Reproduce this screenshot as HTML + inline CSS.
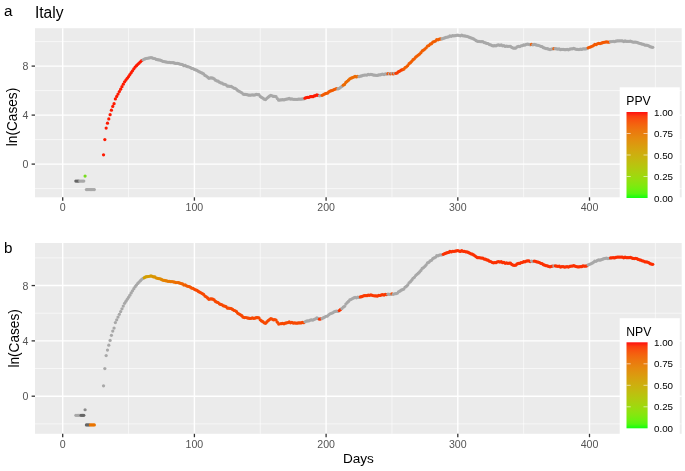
<!DOCTYPE html>
<html lang="en"><head><meta charset="utf-8"><title>Italy</title>
<style>
html,body{margin:0;padding:0;background:#fff;}
body{width:685px;height:471px;overflow:hidden;}
svg text{font-family:"Liberation Sans",Arial,Helvetica,sans-serif;}
</style></head><body>
<svg width="685" height="471" viewBox="0 0 685 471" style="display:block">
<defs><linearGradient id="cb" x1="0" y1="1" x2="0" y2="0">
<stop offset="0.00" stop-color="#0fff0f"/>
<stop offset="0.05" stop-color="#54f70f"/>
<stop offset="0.10" stop-color="#6ef00f"/>
<stop offset="0.15" stop-color="#82e80f"/>
<stop offset="0.20" stop-color="#91e10f"/>
<stop offset="0.25" stop-color="#9ed90f"/>
<stop offset="0.30" stop-color="#a9d10f"/>
<stop offset="0.35" stop-color="#b3c90f"/>
<stop offset="0.40" stop-color="#bcc10f"/>
<stop offset="0.45" stop-color="#c5b80f"/>
<stop offset="0.50" stop-color="#ccb00f"/>
<stop offset="0.55" stop-color="#d3a70f"/>
<stop offset="0.60" stop-color="#d99e0f"/>
<stop offset="0.65" stop-color="#df940f"/>
<stop offset="0.70" stop-color="#e58a0f"/>
<stop offset="0.75" stop-color="#e97e0f"/>
<stop offset="0.80" stop-color="#ee730f"/>
<stop offset="0.85" stop-color="#f3650f"/>
<stop offset="0.90" stop-color="#f7550f"/>
<stop offset="0.95" stop-color="#fb3f0f"/>
<stop offset="1.00" stop-color="#ff0f0f"/>
</linearGradient></defs>
<rect width="685" height="471" fill="#ffffff"/>
<rect x="35.0" y="28.2" width="646.7" height="169.1" fill="#ebebeb"/>
<line x1="35.0" x2="681.7" y1="188.60" y2="188.60" stroke="#fff" stroke-width="0.6"/>
<line x1="35.0" x2="681.7" y1="139.60" y2="139.60" stroke="#fff" stroke-width="0.6"/>
<line x1="35.0" x2="681.7" y1="90.60" y2="90.60" stroke="#fff" stroke-width="0.6"/>
<line x1="35.0" x2="681.7" y1="41.60" y2="41.60" stroke="#fff" stroke-width="0.6"/>
<line y1="28.2" y2="197.3" x1="128.55" x2="128.55" stroke="#fff" stroke-width="0.6"/>
<line y1="28.2" y2="197.3" x1="260.25" x2="260.25" stroke="#fff" stroke-width="0.6"/>
<line y1="28.2" y2="197.3" x1="391.95" x2="391.95" stroke="#fff" stroke-width="0.6"/>
<line y1="28.2" y2="197.3" x1="523.65" x2="523.65" stroke="#fff" stroke-width="0.6"/>
<line y1="28.2" y2="197.3" x1="655.35" x2="655.35" stroke="#fff" stroke-width="0.6"/>
<line x1="35.0" x2="681.7" y1="164.10" y2="164.10" stroke="#fff" stroke-width="1.4"/>
<line x1="31.6" x2="35.0" y1="164.10" y2="164.10" stroke="#333" stroke-width="1.3"/>
<text x="28.5" y="168.30" text-anchor="end" font-size="10.6" fill="#555555">0</text>
<line x1="35.0" x2="681.7" y1="115.10" y2="115.10" stroke="#fff" stroke-width="1.4"/>
<line x1="31.6" x2="35.0" y1="115.10" y2="115.10" stroke="#333" stroke-width="1.3"/>
<text x="28.5" y="119.30" text-anchor="end" font-size="10.6" fill="#555555">4</text>
<line x1="35.0" x2="681.7" y1="66.10" y2="66.10" stroke="#fff" stroke-width="1.4"/>
<line x1="31.6" x2="35.0" y1="66.10" y2="66.10" stroke="#333" stroke-width="1.3"/>
<text x="28.5" y="70.30" text-anchor="end" font-size="10.6" fill="#555555">8</text>
<line y1="28.2" y2="197.3" x1="62.70" x2="62.70" stroke="#fff" stroke-width="1.4"/>
<line y1="197.3" y2="200.7" x1="62.70" x2="62.70" stroke="#333" stroke-width="1.3"/>
<text x="62.70" y="211.20" text-anchor="middle" font-size="10.6" fill="#555555">0</text>
<line y1="28.2" y2="197.3" x1="194.40" x2="194.40" stroke="#fff" stroke-width="1.4"/>
<line y1="197.3" y2="200.7" x1="194.40" x2="194.40" stroke="#333" stroke-width="1.3"/>
<text x="194.40" y="211.20" text-anchor="middle" font-size="10.6" fill="#555555">100</text>
<line y1="28.2" y2="197.3" x1="326.10" x2="326.10" stroke="#fff" stroke-width="1.4"/>
<line y1="197.3" y2="200.7" x1="326.10" x2="326.10" stroke="#333" stroke-width="1.3"/>
<text x="326.10" y="211.20" text-anchor="middle" font-size="10.6" fill="#555555">200</text>
<line y1="28.2" y2="197.3" x1="457.80" x2="457.80" stroke="#fff" stroke-width="1.4"/>
<line y1="197.3" y2="200.7" x1="457.80" x2="457.80" stroke="#333" stroke-width="1.3"/>
<text x="457.80" y="211.20" text-anchor="middle" font-size="10.6" fill="#555555">300</text>
<line y1="28.2" y2="197.3" x1="589.50" x2="589.50" stroke="#fff" stroke-width="1.4"/>
<line y1="197.3" y2="200.7" x1="589.50" x2="589.50" stroke="#333" stroke-width="1.3"/>
<text x="589.50" y="211.20" text-anchor="middle" font-size="10.6" fill="#555555">400</text>
<circle cx="75.87" cy="181.08" r="1.62" fill="#666666"/>
<circle cx="77.19" cy="181.08" r="1.62" fill="#666666"/>
<circle cx="78.50" cy="181.08" r="1.62" fill="#666666"/>
<circle cx="79.82" cy="181.08" r="1.62" fill="#a8a8a8"/>
<circle cx="81.14" cy="181.08" r="1.62" fill="#a8a8a8"/>
<circle cx="82.45" cy="181.08" r="1.62" fill="#a8a8a8"/>
<circle cx="83.77" cy="181.08" r="1.62" fill="#a8a8a8"/>
<circle cx="85.09" cy="176.10" r="1.62" fill="#78dc1e"/>
<circle cx="86.41" cy="189.57" r="1.62" fill="#a8a8a8"/>
<circle cx="87.72" cy="189.57" r="1.62" fill="#a8a8a8"/>
<circle cx="89.04" cy="189.57" r="1.62" fill="#a8a8a8"/>
<circle cx="90.36" cy="189.57" r="1.62" fill="#a8a8a8"/>
<circle cx="91.67" cy="189.57" r="1.62" fill="#a8a8a8"/>
<circle cx="92.99" cy="189.57" r="1.62" fill="#a8a8a8"/>
<circle cx="94.31" cy="189.57" r="1.62" fill="#a8a8a8"/>
<circle cx="103.53" cy="154.86" r="1.62" fill="#fe1900"/>
<circle cx="104.84" cy="139.62" r="1.62" fill="#fe1900"/>
<circle cx="106.16" cy="128.08" r="1.62" fill="#fe1900"/>
<circle cx="107.48" cy="123.19" r="1.62" fill="#fe1900"/>
<circle cx="108.80" cy="118.90" r="1.62" fill="#fe1900"/>
<circle cx="110.11" cy="114.73" r="1.62" fill="#fe1900"/>
<circle cx="111.43" cy="110.20" r="1.62" fill="#fe1900"/>
<circle cx="112.75" cy="106.40" r="1.62" fill="#fe1900"/>
<circle cx="114.06" cy="103.71" r="1.62" fill="#fe1900"/>
<circle cx="115.38" cy="98.93" r="1.62" fill="#fe1900"/>
<circle cx="116.70" cy="96.48" r="1.62" fill="#fe1900"/>
<circle cx="118.01" cy="94.03" r="1.62" fill="#fe1900"/>
<circle cx="119.33" cy="91.58" r="1.62" fill="#fe1900"/>
<circle cx="120.65" cy="89.13" r="1.62" fill="#fe1900"/>
<circle cx="121.97" cy="86.68" r="1.62" fill="#fe1900"/>
<circle cx="123.28" cy="84.23" r="1.62" fill="#fe1900"/>
<circle cx="124.60" cy="81.78" r="1.62" fill="#fe1900"/>
<circle cx="125.92" cy="80.02" r="1.62" fill="#fe1900"/>
<circle cx="127.23" cy="78.27" r="1.62" fill="#fe1900"/>
<circle cx="128.55" cy="76.51" r="1.62" fill="#fe1900"/>
<circle cx="129.87" cy="74.60" r="1.62" fill="#fe1900"/>
<circle cx="131.18" cy="72.68" r="1.62" fill="#fe1900"/>
<circle cx="132.50" cy="70.76" r="1.62" fill="#fe1900"/>
<circle cx="133.82" cy="68.84" r="1.62" fill="#fe1900"/>
<circle cx="135.13" cy="67.12" r="1.62" fill="#fe1900"/>
<circle cx="136.45" cy="65.69" r="1.62" fill="#fe1900"/>
<circle cx="137.77" cy="64.26" r="1.62" fill="#fe1900"/>
<circle cx="139.09" cy="63.04" r="1.62" fill="#fe1900"/>
<circle cx="140.40" cy="61.81" r="1.62" fill="#fe1900"/>
<circle cx="141.72" cy="60.59" r="1.62" fill="#fe1900"/>
<circle cx="143.04" cy="59.82" r="1.62" fill="#a8a8a8"/>
<circle cx="144.35" cy="59.16" r="1.62" fill="#a8a8a8"/>
<circle cx="145.67" cy="58.51" r="1.62" fill="#a8a8a8"/>
<circle cx="146.99" cy="58.29" r="1.62" fill="#a8a8a8"/>
<circle cx="148.31" cy="58.07" r="1.62" fill="#a8a8a8"/>
<circle cx="149.62" cy="57.86" r="1.62" fill="#a8a8a8"/>
<circle cx="150.94" cy="57.61" r="1.62" fill="#a8a8a8"/>
<circle cx="152.26" cy="57.95" r="1.62" fill="#a8a8a8"/>
<circle cx="153.57" cy="58.50" r="1.62" fill="#a8a8a8"/>
<circle cx="154.89" cy="58.50" r="1.62" fill="#a8a8a8"/>
<circle cx="156.21" cy="59.41" r="1.62" fill="#a8a8a8"/>
<circle cx="157.52" cy="59.66" r="1.62" fill="#a8a8a8"/>
<circle cx="158.84" cy="59.93" r="1.62" fill="#a8a8a8"/>
<circle cx="160.16" cy="60.11" r="1.62" fill="#a8a8a8"/>
<circle cx="161.47" cy="60.69" r="1.62" fill="#a8a8a8"/>
<circle cx="162.79" cy="61.33" r="1.62" fill="#a8a8a8"/>
<circle cx="164.11" cy="61.56" r="1.62" fill="#a8a8a8"/>
<circle cx="165.43" cy="61.79" r="1.62" fill="#a8a8a8"/>
<circle cx="166.74" cy="62.02" r="1.62" fill="#a8a8a8"/>
<circle cx="168.06" cy="62.34" r="1.62" fill="#a8a8a8"/>
<circle cx="169.38" cy="62.37" r="1.62" fill="#a8a8a8"/>
<circle cx="170.69" cy="62.56" r="1.62" fill="#a8a8a8"/>
<circle cx="172.01" cy="62.53" r="1.62" fill="#a8a8a8"/>
<circle cx="173.33" cy="62.73" r="1.62" fill="#a8a8a8"/>
<circle cx="174.64" cy="63.15" r="1.62" fill="#a8a8a8"/>
<circle cx="175.96" cy="63.41" r="1.62" fill="#a8a8a8"/>
<circle cx="177.28" cy="63.39" r="1.62" fill="#a8a8a8"/>
<circle cx="178.60" cy="63.52" r="1.62" fill="#a8a8a8"/>
<circle cx="179.91" cy="64.01" r="1.62" fill="#a8a8a8"/>
<circle cx="181.23" cy="64.31" r="1.62" fill="#a8a8a8"/>
<circle cx="182.55" cy="64.61" r="1.62" fill="#a8a8a8"/>
<circle cx="183.86" cy="65.67" r="1.62" fill="#a8a8a8"/>
<circle cx="185.18" cy="65.46" r="1.62" fill="#a8a8a8"/>
<circle cx="186.50" cy="66.37" r="1.62" fill="#a8a8a8"/>
<circle cx="187.81" cy="66.73" r="1.62" fill="#a8a8a8"/>
<circle cx="189.13" cy="67.00" r="1.62" fill="#a8a8a8"/>
<circle cx="190.45" cy="67.56" r="1.62" fill="#a8a8a8"/>
<circle cx="191.77" cy="68.46" r="1.62" fill="#a8a8a8"/>
<circle cx="193.08" cy="68.56" r="1.62" fill="#a8a8a8"/>
<circle cx="194.40" cy="69.48" r="1.62" fill="#a8a8a8"/>
<circle cx="195.72" cy="69.98" r="1.62" fill="#a8a8a8"/>
<circle cx="197.03" cy="70.36" r="1.62" fill="#a8a8a8"/>
<circle cx="198.35" cy="71.35" r="1.62" fill="#a8a8a8"/>
<circle cx="199.67" cy="71.94" r="1.62" fill="#a8a8a8"/>
<circle cx="200.99" cy="72.55" r="1.62" fill="#a8a8a8"/>
<circle cx="202.30" cy="73.20" r="1.62" fill="#a8a8a8"/>
<circle cx="203.62" cy="73.95" r="1.62" fill="#a8a8a8"/>
<circle cx="204.94" cy="75.38" r="1.62" fill="#a8a8a8"/>
<circle cx="206.25" cy="76.07" r="1.62" fill="#a8a8a8"/>
<circle cx="207.57" cy="77.02" r="1.62" fill="#a8a8a8"/>
<circle cx="208.89" cy="78.31" r="1.62" fill="#a8a8a8"/>
<circle cx="210.20" cy="77.95" r="1.62" fill="#a8a8a8"/>
<circle cx="211.52" cy="77.90" r="1.62" fill="#a8a8a8"/>
<circle cx="212.84" cy="78.18" r="1.62" fill="#a8a8a8"/>
<circle cx="214.15" cy="78.82" r="1.62" fill="#a8a8a8"/>
<circle cx="215.47" cy="80.14" r="1.62" fill="#a8a8a8"/>
<circle cx="216.79" cy="80.79" r="1.62" fill="#a8a8a8"/>
<circle cx="218.11" cy="81.20" r="1.62" fill="#a8a8a8"/>
<circle cx="219.42" cy="82.24" r="1.62" fill="#a8a8a8"/>
<circle cx="220.74" cy="82.79" r="1.62" fill="#a8a8a8"/>
<circle cx="222.06" cy="83.16" r="1.62" fill="#a8a8a8"/>
<circle cx="223.37" cy="84.08" r="1.62" fill="#a8a8a8"/>
<circle cx="224.69" cy="84.25" r="1.62" fill="#a8a8a8"/>
<circle cx="226.01" cy="84.81" r="1.62" fill="#a8a8a8"/>
<circle cx="227.32" cy="86.04" r="1.62" fill="#a8a8a8"/>
<circle cx="228.64" cy="86.16" r="1.62" fill="#a8a8a8"/>
<circle cx="229.96" cy="86.27" r="1.62" fill="#a8a8a8"/>
<circle cx="231.28" cy="86.43" r="1.62" fill="#a8a8a8"/>
<circle cx="232.59" cy="87.25" r="1.62" fill="#a8a8a8"/>
<circle cx="233.91" cy="88.04" r="1.62" fill="#a8a8a8"/>
<circle cx="235.23" cy="88.41" r="1.62" fill="#a8a8a8"/>
<circle cx="236.54" cy="89.28" r="1.62" fill="#a8a8a8"/>
<circle cx="237.86" cy="90.70" r="1.62" fill="#a8a8a8"/>
<circle cx="239.18" cy="91.36" r="1.62" fill="#a8a8a8"/>
<circle cx="240.50" cy="92.00" r="1.62" fill="#a8a8a8"/>
<circle cx="241.81" cy="92.75" r="1.62" fill="#a8a8a8"/>
<circle cx="243.13" cy="94.09" r="1.62" fill="#a8a8a8"/>
<circle cx="244.45" cy="94.41" r="1.62" fill="#a8a8a8"/>
<circle cx="245.76" cy="94.39" r="1.62" fill="#a8a8a8"/>
<circle cx="247.08" cy="94.66" r="1.62" fill="#a8a8a8"/>
<circle cx="248.40" cy="95.02" r="1.62" fill="#a8a8a8"/>
<circle cx="249.71" cy="95.20" r="1.62" fill="#a8a8a8"/>
<circle cx="251.03" cy="95.10" r="1.62" fill="#a8a8a8"/>
<circle cx="252.35" cy="94.76" r="1.62" fill="#a8a8a8"/>
<circle cx="253.67" cy="95.12" r="1.62" fill="#a8a8a8"/>
<circle cx="254.98" cy="94.95" r="1.62" fill="#a8a8a8"/>
<circle cx="256.30" cy="94.49" r="1.62" fill="#a8a8a8"/>
<circle cx="257.62" cy="94.51" r="1.62" fill="#a8a8a8"/>
<circle cx="258.93" cy="94.63" r="1.62" fill="#a8a8a8"/>
<circle cx="260.25" cy="96.42" r="1.62" fill="#a8a8a8"/>
<circle cx="261.57" cy="97.41" r="1.62" fill="#a8a8a8"/>
<circle cx="262.88" cy="98.11" r="1.62" fill="#a8a8a8"/>
<circle cx="264.20" cy="99.14" r="1.62" fill="#a8a8a8"/>
<circle cx="265.52" cy="99.59" r="1.62" fill="#a8a8a8"/>
<circle cx="266.83" cy="98.28" r="1.62" fill="#a8a8a8"/>
<circle cx="268.15" cy="97.16" r="1.62" fill="#a8a8a8"/>
<circle cx="269.47" cy="96.19" r="1.62" fill="#a8a8a8"/>
<circle cx="270.79" cy="95.44" r="1.62" fill="#a8a8a8"/>
<circle cx="272.10" cy="95.76" r="1.62" fill="#a8a8a8"/>
<circle cx="273.42" cy="96.40" r="1.62" fill="#a8a8a8"/>
<circle cx="274.74" cy="96.28" r="1.62" fill="#a8a8a8"/>
<circle cx="276.05" cy="96.68" r="1.62" fill="#a8a8a8"/>
<circle cx="277.37" cy="98.59" r="1.62" fill="#a8a8a8"/>
<circle cx="278.69" cy="100.20" r="1.62" fill="#a8a8a8"/>
<circle cx="280.00" cy="99.93" r="1.62" fill="#a8a8a8"/>
<circle cx="281.32" cy="99.92" r="1.62" fill="#a8a8a8"/>
<circle cx="282.64" cy="99.53" r="1.62" fill="#a8a8a8"/>
<circle cx="283.96" cy="99.95" r="1.62" fill="#a8a8a8"/>
<circle cx="285.27" cy="99.47" r="1.62" fill="#a8a8a8"/>
<circle cx="286.59" cy="99.11" r="1.62" fill="#a8a8a8"/>
<circle cx="287.91" cy="98.88" r="1.62" fill="#a8a8a8"/>
<circle cx="289.22" cy="98.37" r="1.62" fill="#a8a8a8"/>
<circle cx="290.54" cy="99.14" r="1.62" fill="#a8a8a8"/>
<circle cx="291.86" cy="98.79" r="1.62" fill="#a8a8a8"/>
<circle cx="293.18" cy="99.35" r="1.62" fill="#a8a8a8"/>
<circle cx="294.49" cy="99.26" r="1.62" fill="#a8a8a8"/>
<circle cx="295.81" cy="99.33" r="1.62" fill="#a8a8a8"/>
<circle cx="297.13" cy="99.48" r="1.62" fill="#a8a8a8"/>
<circle cx="298.44" cy="99.16" r="1.62" fill="#a8a8a8"/>
<circle cx="299.76" cy="99.08" r="1.62" fill="#a8a8a8"/>
<circle cx="301.08" cy="99.18" r="1.62" fill="#a8a8a8"/>
<circle cx="302.39" cy="98.80" r="1.62" fill="#a8a8a8"/>
<circle cx="303.71" cy="98.96" r="1.62" fill="#a8a8a8"/>
<circle cx="305.03" cy="98.18" r="1.62" fill="#fe1900"/>
<circle cx="306.34" cy="97.60" r="1.62" fill="#fe1900"/>
<circle cx="307.66" cy="97.41" r="1.62" fill="#fe1900"/>
<circle cx="308.98" cy="97.36" r="1.62" fill="#fe1900"/>
<circle cx="310.30" cy="96.66" r="1.62" fill="#fe1900"/>
<circle cx="311.61" cy="96.55" r="1.62" fill="#fe1900"/>
<circle cx="312.93" cy="96.69" r="1.62" fill="#fe1900"/>
<circle cx="314.25" cy="95.95" r="1.62" fill="#fe1900"/>
<circle cx="315.56" cy="95.51" r="1.62" fill="#fe1900"/>
<circle cx="316.88" cy="94.80" r="1.62" fill="#fe1900"/>
<circle cx="318.20" cy="95.47" r="1.62" fill="#fe1900"/>
<circle cx="319.51" cy="95.84" r="1.62" fill="#a8a8a8"/>
<circle cx="320.83" cy="95.51" r="1.62" fill="#a8a8a8"/>
<circle cx="322.15" cy="95.32" r="1.62" fill="#f25b00"/>
<circle cx="323.47" cy="94.53" r="1.62" fill="#f25b00"/>
<circle cx="324.78" cy="93.99" r="1.62" fill="#f25b00"/>
<circle cx="326.10" cy="93.29" r="1.62" fill="#f25b00"/>
<circle cx="327.42" cy="93.14" r="1.62" fill="#f25b00"/>
<circle cx="328.73" cy="91.97" r="1.62" fill="#f25b00"/>
<circle cx="330.05" cy="91.14" r="1.62" fill="#f25b00"/>
<circle cx="331.37" cy="90.72" r="1.62" fill="#f25b00"/>
<circle cx="332.69" cy="90.28" r="1.62" fill="#f25b00"/>
<circle cx="334.00" cy="89.51" r="1.62" fill="#f25b00"/>
<circle cx="335.32" cy="89.05" r="1.62" fill="#f25b00"/>
<circle cx="336.64" cy="88.66" r="1.62" fill="#f25b00"/>
<circle cx="337.95" cy="88.90" r="1.62" fill="#a8a8a8"/>
<circle cx="339.27" cy="88.29" r="1.62" fill="#a8a8a8"/>
<circle cx="340.59" cy="87.26" r="1.62" fill="#a8a8a8"/>
<circle cx="341.90" cy="86.49" r="1.62" fill="#a8a8a8"/>
<circle cx="343.22" cy="85.21" r="1.62" fill="#ed6a00"/>
<circle cx="344.54" cy="84.44" r="1.62" fill="#ed6a00"/>
<circle cx="345.85" cy="82.46" r="1.62" fill="#ed6a00"/>
<circle cx="347.17" cy="81.31" r="1.62" fill="#ed6a00"/>
<circle cx="348.49" cy="80.17" r="1.62" fill="#ed6a00"/>
<circle cx="349.81" cy="78.80" r="1.62" fill="#ed6a00"/>
<circle cx="351.12" cy="78.24" r="1.62" fill="#ed6a00"/>
<circle cx="352.44" cy="77.59" r="1.62" fill="#ed6a00"/>
<circle cx="353.76" cy="77.09" r="1.62" fill="#ed6a00"/>
<circle cx="355.07" cy="76.47" r="1.62" fill="#ed6a00"/>
<circle cx="356.39" cy="76.92" r="1.62" fill="#ed6a00"/>
<circle cx="357.71" cy="76.41" r="1.62" fill="#ed6a00"/>
<circle cx="359.02" cy="76.63" r="1.62" fill="#a8a8a8"/>
<circle cx="360.34" cy="76.13" r="1.62" fill="#a8a8a8"/>
<circle cx="361.66" cy="75.99" r="1.62" fill="#a8a8a8"/>
<circle cx="362.98" cy="75.36" r="1.62" fill="#a8a8a8"/>
<circle cx="364.29" cy="75.06" r="1.62" fill="#a8a8a8"/>
<circle cx="365.61" cy="75.00" r="1.62" fill="#a8a8a8"/>
<circle cx="366.93" cy="75.08" r="1.62" fill="#a8a8a8"/>
<circle cx="368.24" cy="74.48" r="1.62" fill="#a8a8a8"/>
<circle cx="369.56" cy="74.75" r="1.62" fill="#a8a8a8"/>
<circle cx="370.88" cy="74.33" r="1.62" fill="#a8a8a8"/>
<circle cx="372.19" cy="74.71" r="1.62" fill="#a8a8a8"/>
<circle cx="373.51" cy="75.12" r="1.62" fill="#a8a8a8"/>
<circle cx="374.83" cy="75.16" r="1.62" fill="#a8a8a8"/>
<circle cx="376.15" cy="75.28" r="1.62" fill="#a8a8a8"/>
<circle cx="377.46" cy="75.43" r="1.62" fill="#a8a8a8"/>
<circle cx="378.78" cy="74.79" r="1.62" fill="#a8a8a8"/>
<circle cx="380.10" cy="74.90" r="1.62" fill="#a8a8a8"/>
<circle cx="381.41" cy="74.36" r="1.62" fill="#a8a8a8"/>
<circle cx="382.73" cy="74.20" r="1.62" fill="#a8a8a8"/>
<circle cx="384.05" cy="74.54" r="1.62" fill="#a8a8a8"/>
<circle cx="385.36" cy="73.93" r="1.62" fill="#a8a8a8"/>
<circle cx="386.68" cy="74.06" r="1.62" fill="#a8a8a8"/>
<circle cx="388.00" cy="73.71" r="1.62" fill="#f55100"/>
<circle cx="389.32" cy="73.83" r="1.62" fill="#a8a8a8"/>
<circle cx="390.63" cy="73.86" r="1.62" fill="#f55100"/>
<circle cx="391.95" cy="73.44" r="1.62" fill="#a8a8a8"/>
<circle cx="393.27" cy="73.89" r="1.62" fill="#f55100"/>
<circle cx="394.58" cy="73.35" r="1.62" fill="#a8a8a8"/>
<circle cx="395.90" cy="73.35" r="1.62" fill="#f93d00"/>
<circle cx="397.22" cy="72.91" r="1.62" fill="#f93d00"/>
<circle cx="398.53" cy="71.68" r="1.62" fill="#f93d00"/>
<circle cx="399.85" cy="71.12" r="1.62" fill="#f93d00"/>
<circle cx="401.17" cy="70.17" r="1.62" fill="#f93d00"/>
<circle cx="402.49" cy="69.69" r="1.62" fill="#f93d00"/>
<circle cx="403.80" cy="69.18" r="1.62" fill="#f15e00"/>
<circle cx="405.12" cy="67.50" r="1.62" fill="#f15e00"/>
<circle cx="406.44" cy="66.81" r="1.62" fill="#f15e00"/>
<circle cx="407.75" cy="65.54" r="1.62" fill="#f15e00"/>
<circle cx="409.07" cy="63.71" r="1.62" fill="#f15e00"/>
<circle cx="410.39" cy="62.65" r="1.62" fill="#f15e00"/>
<circle cx="411.70" cy="61.33" r="1.62" fill="#f15e00"/>
<circle cx="413.02" cy="59.68" r="1.62" fill="#f15e00"/>
<circle cx="414.34" cy="58.84" r="1.62" fill="#f15e00"/>
<circle cx="415.66" cy="57.18" r="1.62" fill="#f15e00"/>
<circle cx="416.97" cy="56.12" r="1.62" fill="#f15e00"/>
<circle cx="418.29" cy="55.11" r="1.62" fill="#f15e00"/>
<circle cx="419.61" cy="54.06" r="1.62" fill="#f15e00"/>
<circle cx="420.92" cy="52.69" r="1.62" fill="#f15e00"/>
<circle cx="422.24" cy="50.93" r="1.62" fill="#f15e00"/>
<circle cx="423.56" cy="50.12" r="1.62" fill="#f15e00"/>
<circle cx="424.88" cy="49.08" r="1.62" fill="#f15e00"/>
<circle cx="426.19" cy="47.75" r="1.62" fill="#f15e00"/>
<circle cx="427.51" cy="46.08" r="1.62" fill="#f15e00"/>
<circle cx="428.83" cy="45.55" r="1.62" fill="#f15e00"/>
<circle cx="430.14" cy="44.18" r="1.62" fill="#f15e00"/>
<circle cx="431.46" cy="43.72" r="1.62" fill="#f15e00"/>
<circle cx="432.78" cy="42.19" r="1.62" fill="#f15e00"/>
<circle cx="434.09" cy="41.59" r="1.62" fill="#f15e00"/>
<circle cx="435.41" cy="41.02" r="1.62" fill="#f15e00"/>
<circle cx="436.73" cy="39.68" r="1.62" fill="#f15e00"/>
<circle cx="438.04" cy="39.76" r="1.62" fill="#f15e00"/>
<circle cx="439.36" cy="39.14" r="1.62" fill="#f15e00"/>
<circle cx="440.68" cy="38.95" r="1.62" fill="#f15e00"/>
<circle cx="442.00" cy="38.91" r="1.62" fill="#a8a8a8"/>
<circle cx="443.31" cy="38.42" r="1.62" fill="#a8a8a8"/>
<circle cx="444.63" cy="37.91" r="1.62" fill="#a8a8a8"/>
<circle cx="445.95" cy="37.43" r="1.62" fill="#a8a8a8"/>
<circle cx="447.26" cy="37.03" r="1.62" fill="#a8a8a8"/>
<circle cx="448.58" cy="36.79" r="1.62" fill="#a8a8a8"/>
<circle cx="449.90" cy="35.88" r="1.62" fill="#a8a8a8"/>
<circle cx="451.21" cy="36.27" r="1.62" fill="#a8a8a8"/>
<circle cx="452.53" cy="35.71" r="1.62" fill="#a8a8a8"/>
<circle cx="453.85" cy="35.76" r="1.62" fill="#a8a8a8"/>
<circle cx="455.17" cy="35.68" r="1.62" fill="#a8a8a8"/>
<circle cx="456.48" cy="35.28" r="1.62" fill="#a8a8a8"/>
<circle cx="457.80" cy="35.15" r="1.62" fill="#a8a8a8"/>
<circle cx="459.12" cy="35.50" r="1.62" fill="#a8a8a8"/>
<circle cx="460.43" cy="35.84" r="1.62" fill="#a8a8a8"/>
<circle cx="461.75" cy="35.11" r="1.62" fill="#a8a8a8"/>
<circle cx="463.07" cy="35.81" r="1.62" fill="#a8a8a8"/>
<circle cx="464.38" cy="35.85" r="1.62" fill="#a8a8a8"/>
<circle cx="465.70" cy="36.16" r="1.62" fill="#a8a8a8"/>
<circle cx="467.02" cy="36.33" r="1.62" fill="#a8a8a8"/>
<circle cx="468.34" cy="36.80" r="1.62" fill="#a8a8a8"/>
<circle cx="469.65" cy="37.38" r="1.62" fill="#a8a8a8"/>
<circle cx="470.97" cy="37.95" r="1.62" fill="#a8a8a8"/>
<circle cx="472.29" cy="38.26" r="1.62" fill="#a8a8a8"/>
<circle cx="473.60" cy="38.99" r="1.62" fill="#a8a8a8"/>
<circle cx="474.92" cy="39.75" r="1.62" fill="#a8a8a8"/>
<circle cx="476.24" cy="40.63" r="1.62" fill="#a8a8a8"/>
<circle cx="477.55" cy="41.36" r="1.62" fill="#a8a8a8"/>
<circle cx="478.87" cy="41.44" r="1.62" fill="#a8a8a8"/>
<circle cx="480.19" cy="41.53" r="1.62" fill="#a8a8a8"/>
<circle cx="481.51" cy="41.74" r="1.62" fill="#a8a8a8"/>
<circle cx="482.82" cy="41.72" r="1.62" fill="#a8a8a8"/>
<circle cx="484.14" cy="42.62" r="1.62" fill="#a8a8a8"/>
<circle cx="485.46" cy="42.77" r="1.62" fill="#a8a8a8"/>
<circle cx="486.77" cy="43.44" r="1.62" fill="#a8a8a8"/>
<circle cx="488.09" cy="43.60" r="1.62" fill="#a8a8a8"/>
<circle cx="489.41" cy="44.51" r="1.62" fill="#a8a8a8"/>
<circle cx="490.72" cy="44.79" r="1.62" fill="#a8a8a8"/>
<circle cx="492.04" cy="45.55" r="1.62" fill="#a8a8a8"/>
<circle cx="493.36" cy="45.96" r="1.62" fill="#a8a8a8"/>
<circle cx="494.68" cy="45.74" r="1.62" fill="#a8a8a8"/>
<circle cx="495.99" cy="45.83" r="1.62" fill="#a8a8a8"/>
<circle cx="497.31" cy="45.04" r="1.62" fill="#a8a8a8"/>
<circle cx="498.63" cy="44.95" r="1.62" fill="#a8a8a8"/>
<circle cx="499.94" cy="45.26" r="1.62" fill="#a8a8a8"/>
<circle cx="501.26" cy="44.98" r="1.62" fill="#a8a8a8"/>
<circle cx="502.58" cy="45.80" r="1.62" fill="#a8a8a8"/>
<circle cx="503.89" cy="45.51" r="1.62" fill="#a8a8a8"/>
<circle cx="505.21" cy="46.38" r="1.62" fill="#a8a8a8"/>
<circle cx="506.53" cy="46.00" r="1.62" fill="#a8a8a8"/>
<circle cx="507.85" cy="46.38" r="1.62" fill="#a8a8a8"/>
<circle cx="509.16" cy="46.25" r="1.62" fill="#a8a8a8"/>
<circle cx="510.48" cy="46.27" r="1.62" fill="#a8a8a8"/>
<circle cx="511.80" cy="47.41" r="1.62" fill="#a8a8a8"/>
<circle cx="513.11" cy="48.07" r="1.62" fill="#a8a8a8"/>
<circle cx="514.43" cy="48.13" r="1.62" fill="#a8a8a8"/>
<circle cx="515.75" cy="48.05" r="1.62" fill="#a8a8a8"/>
<circle cx="517.07" cy="46.97" r="1.62" fill="#a8a8a8"/>
<circle cx="518.38" cy="46.37" r="1.62" fill="#a8a8a8"/>
<circle cx="519.70" cy="46.53" r="1.62" fill="#a8a8a8"/>
<circle cx="521.02" cy="45.86" r="1.62" fill="#a8a8a8"/>
<circle cx="522.33" cy="45.68" r="1.62" fill="#a8a8a8"/>
<circle cx="523.65" cy="44.96" r="1.62" fill="#a8a8a8"/>
<circle cx="524.97" cy="45.10" r="1.62" fill="#a8a8a8"/>
<circle cx="526.28" cy="44.36" r="1.62" fill="#a8a8a8"/>
<circle cx="527.60" cy="44.15" r="1.62" fill="#a8a8a8"/>
<circle cx="528.92" cy="44.28" r="1.62" fill="#a8a8a8"/>
<circle cx="530.24" cy="44.82" r="1.62" fill="#a8a8a8"/>
<circle cx="531.55" cy="44.38" r="1.62" fill="#f25b00"/>
<circle cx="532.87" cy="44.86" r="1.62" fill="#a8a8a8"/>
<circle cx="534.19" cy="44.44" r="1.62" fill="#a8a8a8"/>
<circle cx="535.50" cy="44.66" r="1.62" fill="#a8a8a8"/>
<circle cx="536.82" cy="45.17" r="1.62" fill="#a8a8a8"/>
<circle cx="538.14" cy="45.28" r="1.62" fill="#a8a8a8"/>
<circle cx="539.45" cy="45.75" r="1.62" fill="#a8a8a8"/>
<circle cx="540.77" cy="46.35" r="1.62" fill="#a8a8a8"/>
<circle cx="542.09" cy="46.68" r="1.62" fill="#a8a8a8"/>
<circle cx="543.40" cy="47.65" r="1.62" fill="#a8a8a8"/>
<circle cx="544.72" cy="48.07" r="1.62" fill="#a8a8a8"/>
<circle cx="546.04" cy="48.54" r="1.62" fill="#a8a8a8"/>
<circle cx="547.36" cy="48.65" r="1.62" fill="#a8a8a8"/>
<circle cx="548.67" cy="49.15" r="1.62" fill="#a8a8a8"/>
<circle cx="549.99" cy="49.51" r="1.62" fill="#a8a8a8"/>
<circle cx="551.31" cy="49.06" r="1.62" fill="#a8a8a8"/>
<circle cx="552.62" cy="48.83" r="1.62" fill="#a8a8a8"/>
<circle cx="553.94" cy="48.72" r="1.62" fill="#f25b00"/>
<circle cx="555.26" cy="48.61" r="1.62" fill="#a8a8a8"/>
<circle cx="556.58" cy="48.97" r="1.62" fill="#a8a8a8"/>
<circle cx="557.89" cy="49.07" r="1.62" fill="#a8a8a8"/>
<circle cx="559.21" cy="48.94" r="1.62" fill="#a8a8a8"/>
<circle cx="560.53" cy="49.68" r="1.62" fill="#a8a8a8"/>
<circle cx="561.84" cy="49.39" r="1.62" fill="#a8a8a8"/>
<circle cx="563.16" cy="49.42" r="1.62" fill="#a8a8a8"/>
<circle cx="564.48" cy="49.73" r="1.62" fill="#a8a8a8"/>
<circle cx="565.79" cy="49.63" r="1.62" fill="#a8a8a8"/>
<circle cx="567.11" cy="49.30" r="1.62" fill="#a8a8a8"/>
<circle cx="568.43" cy="49.77" r="1.62" fill="#a8a8a8"/>
<circle cx="569.75" cy="49.20" r="1.62" fill="#a8a8a8"/>
<circle cx="571.06" cy="48.81" r="1.62" fill="#a8a8a8"/>
<circle cx="572.38" cy="48.86" r="1.62" fill="#a8a8a8"/>
<circle cx="573.70" cy="48.34" r="1.62" fill="#a8a8a8"/>
<circle cx="575.01" cy="48.92" r="1.62" fill="#a8a8a8"/>
<circle cx="576.33" cy="49.32" r="1.62" fill="#a8a8a8"/>
<circle cx="577.65" cy="49.47" r="1.62" fill="#a8a8a8"/>
<circle cx="578.96" cy="49.61" r="1.62" fill="#a8a8a8"/>
<circle cx="580.28" cy="49.24" r="1.62" fill="#a8a8a8"/>
<circle cx="581.60" cy="49.40" r="1.62" fill="#a8a8a8"/>
<circle cx="582.92" cy="48.76" r="1.62" fill="#a8a8a8"/>
<circle cx="584.23" cy="48.88" r="1.62" fill="#a8a8a8"/>
<circle cx="585.55" cy="48.94" r="1.62" fill="#a8a8a8"/>
<circle cx="586.87" cy="48.57" r="1.62" fill="#a8a8a8"/>
<circle cx="588.18" cy="47.85" r="1.62" fill="#f35800"/>
<circle cx="589.50" cy="47.25" r="1.62" fill="#f35800"/>
<circle cx="590.82" cy="46.82" r="1.62" fill="#f35800"/>
<circle cx="592.13" cy="46.25" r="1.62" fill="#f35800"/>
<circle cx="593.45" cy="45.56" r="1.62" fill="#f35800"/>
<circle cx="594.77" cy="44.45" r="1.62" fill="#f35800"/>
<circle cx="596.09" cy="44.63" r="1.62" fill="#f35800"/>
<circle cx="597.40" cy="43.75" r="1.62" fill="#f35800"/>
<circle cx="598.72" cy="43.45" r="1.62" fill="#f35800"/>
<circle cx="600.04" cy="43.60" r="1.62" fill="#f35800"/>
<circle cx="601.35" cy="43.19" r="1.62" fill="#f35800"/>
<circle cx="602.67" cy="42.71" r="1.62" fill="#f35800"/>
<circle cx="603.99" cy="42.33" r="1.62" fill="#f35800"/>
<circle cx="605.30" cy="42.04" r="1.62" fill="#f35800"/>
<circle cx="606.62" cy="41.82" r="1.62" fill="#f35800"/>
<circle cx="607.94" cy="42.16" r="1.62" fill="#f35800"/>
<circle cx="609.25" cy="42.04" r="1.62" fill="#f35800"/>
<circle cx="610.57" cy="41.68" r="1.62" fill="#a8a8a8"/>
<circle cx="611.89" cy="41.54" r="1.62" fill="#a8a8a8"/>
<circle cx="613.21" cy="41.37" r="1.62" fill="#a8a8a8"/>
<circle cx="614.52" cy="41.68" r="1.62" fill="#a8a8a8"/>
<circle cx="615.84" cy="41.18" r="1.62" fill="#a8a8a8"/>
<circle cx="617.16" cy="40.89" r="1.62" fill="#a8a8a8"/>
<circle cx="618.47" cy="40.81" r="1.62" fill="#a8a8a8"/>
<circle cx="619.79" cy="40.82" r="1.62" fill="#a8a8a8"/>
<circle cx="621.11" cy="40.86" r="1.62" fill="#a8a8a8"/>
<circle cx="622.43" cy="40.87" r="1.62" fill="#a8a8a8"/>
<circle cx="623.74" cy="41.57" r="1.62" fill="#a8a8a8"/>
<circle cx="625.06" cy="40.96" r="1.62" fill="#a8a8a8"/>
<circle cx="626.38" cy="41.46" r="1.62" fill="#a8a8a8"/>
<circle cx="627.69" cy="41.46" r="1.62" fill="#a8a8a8"/>
<circle cx="629.01" cy="41.39" r="1.62" fill="#a8a8a8"/>
<circle cx="630.33" cy="41.21" r="1.62" fill="#a8a8a8"/>
<circle cx="631.64" cy="41.66" r="1.62" fill="#a8a8a8"/>
<circle cx="632.96" cy="42.04" r="1.62" fill="#a8a8a8"/>
<circle cx="634.28" cy="42.22" r="1.62" fill="#a8a8a8"/>
<circle cx="635.60" cy="42.02" r="1.62" fill="#a8a8a8"/>
<circle cx="636.91" cy="42.27" r="1.62" fill="#a8a8a8"/>
<circle cx="638.23" cy="42.97" r="1.62" fill="#a8a8a8"/>
<circle cx="639.55" cy="43.31" r="1.62" fill="#a8a8a8"/>
<circle cx="640.86" cy="43.64" r="1.62" fill="#a8a8a8"/>
<circle cx="642.18" cy="44.18" r="1.62" fill="#a8a8a8"/>
<circle cx="643.50" cy="44.35" r="1.62" fill="#a8a8a8"/>
<circle cx="644.81" cy="45.02" r="1.62" fill="#a8a8a8"/>
<circle cx="646.13" cy="45.18" r="1.62" fill="#a8a8a8"/>
<circle cx="647.45" cy="45.31" r="1.62" fill="#a8a8a8"/>
<circle cx="648.76" cy="45.78" r="1.62" fill="#a8a8a8"/>
<circle cx="650.08" cy="46.73" r="1.62" fill="#a8a8a8"/>
<circle cx="651.40" cy="47.05" r="1.62" fill="#a8a8a8"/>
<circle cx="652.72" cy="47.30" r="1.62" fill="#a8a8a8"/>
<rect x="619.7" y="87.3" width="60.1" height="117.7" fill="#ffffff"/>
<text x="626.3" y="104.7" font-size="12.2" fill="#000">PPV</text>
<rect x="626.5" y="112.0" width="21.1" height="86.0" fill="url(#cb)"/>
<text x="654.0" y="115.60" font-size="9.8" fill="#000">1.00</text>
<line x1="626.5" x2="630.7" y1="133.50" y2="133.50" stroke="#fff" stroke-width="0.6"/>
<line x1="643.5" x2="647.7" y1="133.50" y2="133.50" stroke="#fff" stroke-width="0.6"/>
<text x="654.0" y="137.10" font-size="9.8" fill="#000">0.75</text>
<line x1="626.5" x2="630.7" y1="155.00" y2="155.00" stroke="#fff" stroke-width="0.6"/>
<line x1="643.5" x2="647.7" y1="155.00" y2="155.00" stroke="#fff" stroke-width="0.6"/>
<text x="654.0" y="158.60" font-size="9.8" fill="#000">0.50</text>
<line x1="626.5" x2="630.7" y1="176.50" y2="176.50" stroke="#fff" stroke-width="0.6"/>
<line x1="643.5" x2="647.7" y1="176.50" y2="176.50" stroke="#fff" stroke-width="0.6"/>
<text x="654.0" y="180.10" font-size="9.8" fill="#000">0.25</text>
<text x="654.0" y="201.60" font-size="9.8" fill="#000">0.00</text>
<text transform="translate(17.3,117.0) rotate(-90)" text-anchor="middle" font-size="13.8" textLength="58.4" lengthAdjust="spacingAndGlyphs" fill="#000">ln(Cases)</text>
<rect x="35.0" y="243.0" width="646.7" height="190.8" fill="#ebebeb"/>
<line x1="35.0" x2="681.7" y1="423.86" y2="423.86" stroke="#fff" stroke-width="0.6"/>
<line x1="35.0" x2="681.7" y1="368.54" y2="368.54" stroke="#fff" stroke-width="0.6"/>
<line x1="35.0" x2="681.7" y1="313.22" y2="313.22" stroke="#fff" stroke-width="0.6"/>
<line x1="35.0" x2="681.7" y1="257.90" y2="257.90" stroke="#fff" stroke-width="0.6"/>
<line y1="243.0" y2="433.8" x1="128.55" x2="128.55" stroke="#fff" stroke-width="0.6"/>
<line y1="243.0" y2="433.8" x1="260.25" x2="260.25" stroke="#fff" stroke-width="0.6"/>
<line y1="243.0" y2="433.8" x1="391.95" x2="391.95" stroke="#fff" stroke-width="0.6"/>
<line y1="243.0" y2="433.8" x1="523.65" x2="523.65" stroke="#fff" stroke-width="0.6"/>
<line y1="243.0" y2="433.8" x1="655.35" x2="655.35" stroke="#fff" stroke-width="0.6"/>
<line x1="35.0" x2="681.7" y1="396.20" y2="396.20" stroke="#fff" stroke-width="1.4"/>
<line x1="31.6" x2="35.0" y1="396.20" y2="396.20" stroke="#333" stroke-width="1.3"/>
<text x="28.5" y="400.40" text-anchor="end" font-size="10.6" fill="#555555">0</text>
<line x1="35.0" x2="681.7" y1="340.88" y2="340.88" stroke="#fff" stroke-width="1.4"/>
<line x1="31.6" x2="35.0" y1="340.88" y2="340.88" stroke="#333" stroke-width="1.3"/>
<text x="28.5" y="345.08" text-anchor="end" font-size="10.6" fill="#555555">4</text>
<line x1="35.0" x2="681.7" y1="285.56" y2="285.56" stroke="#fff" stroke-width="1.4"/>
<line x1="31.6" x2="35.0" y1="285.56" y2="285.56" stroke="#333" stroke-width="1.3"/>
<text x="28.5" y="289.76" text-anchor="end" font-size="10.6" fill="#555555">8</text>
<line y1="243.0" y2="433.8" x1="62.70" x2="62.70" stroke="#fff" stroke-width="1.4"/>
<line y1="433.8" y2="437.2" x1="62.70" x2="62.70" stroke="#333" stroke-width="1.3"/>
<text x="62.70" y="447.70" text-anchor="middle" font-size="10.6" fill="#555555">0</text>
<line y1="243.0" y2="433.8" x1="194.40" x2="194.40" stroke="#fff" stroke-width="1.4"/>
<line y1="433.8" y2="437.2" x1="194.40" x2="194.40" stroke="#333" stroke-width="1.3"/>
<text x="194.40" y="447.70" text-anchor="middle" font-size="10.6" fill="#555555">100</text>
<line y1="243.0" y2="433.8" x1="326.10" x2="326.10" stroke="#fff" stroke-width="1.4"/>
<line y1="433.8" y2="437.2" x1="326.10" x2="326.10" stroke="#333" stroke-width="1.3"/>
<text x="326.10" y="447.70" text-anchor="middle" font-size="10.6" fill="#555555">200</text>
<line y1="243.0" y2="433.8" x1="457.80" x2="457.80" stroke="#fff" stroke-width="1.4"/>
<line y1="433.8" y2="437.2" x1="457.80" x2="457.80" stroke="#333" stroke-width="1.3"/>
<text x="457.80" y="447.70" text-anchor="middle" font-size="10.6" fill="#555555">300</text>
<line y1="243.0" y2="433.8" x1="589.50" x2="589.50" stroke="#fff" stroke-width="1.4"/>
<line y1="433.8" y2="437.2" x1="589.50" x2="589.50" stroke="#333" stroke-width="1.3"/>
<text x="589.50" y="447.70" text-anchor="middle" font-size="10.6" fill="#555555">400</text>
<circle cx="75.87" cy="415.37" r="1.62" fill="#a8a8a8"/>
<circle cx="77.19" cy="415.37" r="1.62" fill="#a8a8a8"/>
<circle cx="78.50" cy="415.37" r="1.62" fill="#a8a8a8"/>
<circle cx="79.82" cy="415.37" r="1.62" fill="#a8a8a8"/>
<circle cx="81.14" cy="415.37" r="1.62" fill="#666666"/>
<circle cx="82.45" cy="415.37" r="1.62" fill="#666666"/>
<circle cx="83.77" cy="415.37" r="1.62" fill="#666666"/>
<circle cx="85.09" cy="409.75" r="1.62" fill="#8c8c8c"/>
<circle cx="86.41" cy="424.95" r="1.62" fill="#666666"/>
<circle cx="87.72" cy="424.95" r="1.62" fill="#666666"/>
<circle cx="89.04" cy="424.95" r="1.62" fill="#666666"/>
<circle cx="90.36" cy="424.95" r="1.62" fill="#e97400"/>
<circle cx="91.67" cy="424.95" r="1.62" fill="#e97400"/>
<circle cx="92.99" cy="424.95" r="1.62" fill="#e97400"/>
<circle cx="94.31" cy="424.95" r="1.62" fill="#e97400"/>
<circle cx="103.53" cy="385.77" r="1.62" fill="#a8a8a8"/>
<circle cx="104.84" cy="368.57" r="1.62" fill="#a8a8a8"/>
<circle cx="106.16" cy="355.54" r="1.62" fill="#a8a8a8"/>
<circle cx="107.48" cy="350.01" r="1.62" fill="#a8a8a8"/>
<circle cx="108.80" cy="345.17" r="1.62" fill="#a8a8a8"/>
<circle cx="110.11" cy="340.47" r="1.62" fill="#a8a8a8"/>
<circle cx="111.43" cy="335.35" r="1.62" fill="#a8a8a8"/>
<circle cx="112.75" cy="331.06" r="1.62" fill="#a8a8a8"/>
<circle cx="114.06" cy="328.02" r="1.62" fill="#a8a8a8"/>
<circle cx="115.38" cy="322.62" r="1.62" fill="#a8a8a8"/>
<circle cx="116.70" cy="319.86" r="1.62" fill="#a8a8a8"/>
<circle cx="118.01" cy="317.09" r="1.62" fill="#a8a8a8"/>
<circle cx="119.33" cy="314.33" r="1.62" fill="#a8a8a8"/>
<circle cx="120.65" cy="311.56" r="1.62" fill="#a8a8a8"/>
<circle cx="121.97" cy="308.79" r="1.62" fill="#a8a8a8"/>
<circle cx="123.28" cy="306.03" r="1.62" fill="#a8a8a8"/>
<circle cx="124.60" cy="303.26" r="1.62" fill="#a8a8a8"/>
<circle cx="125.92" cy="301.28" r="1.62" fill="#a8a8a8"/>
<circle cx="127.23" cy="299.30" r="1.62" fill="#a8a8a8"/>
<circle cx="128.55" cy="297.32" r="1.62" fill="#a8a8a8"/>
<circle cx="129.87" cy="295.15" r="1.62" fill="#a8a8a8"/>
<circle cx="131.18" cy="292.99" r="1.62" fill="#a8a8a8"/>
<circle cx="132.50" cy="290.82" r="1.62" fill="#a8a8a8"/>
<circle cx="133.82" cy="288.66" r="1.62" fill="#a8a8a8"/>
<circle cx="135.13" cy="286.71" r="1.62" fill="#a8a8a8"/>
<circle cx="136.45" cy="285.10" r="1.62" fill="#a8a8a8"/>
<circle cx="137.77" cy="283.49" r="1.62" fill="#a8a8a8"/>
<circle cx="139.09" cy="282.10" r="1.62" fill="#a8a8a8"/>
<circle cx="140.40" cy="280.72" r="1.62" fill="#a8a8a8"/>
<circle cx="141.72" cy="279.34" r="1.62" fill="#a8a8a8"/>
<circle cx="143.04" cy="278.47" r="1.62" fill="#a8a8a8"/>
<circle cx="144.35" cy="277.73" r="1.62" fill="#d1a000"/>
<circle cx="145.67" cy="276.99" r="1.62" fill="#d29e00"/>
<circle cx="146.99" cy="276.74" r="1.62" fill="#d39d00"/>
<circle cx="148.31" cy="276.50" r="1.62" fill="#d49c00"/>
<circle cx="149.62" cy="276.25" r="1.62" fill="#d59a00"/>
<circle cx="150.94" cy="275.97" r="1.62" fill="#d69900"/>
<circle cx="152.26" cy="276.36" r="1.62" fill="#d79800"/>
<circle cx="153.57" cy="276.98" r="1.62" fill="#d89500"/>
<circle cx="154.89" cy="276.98" r="1.62" fill="#d99300"/>
<circle cx="156.21" cy="278.00" r="1.62" fill="#db9100"/>
<circle cx="157.52" cy="278.29" r="1.62" fill="#dc8e00"/>
<circle cx="158.84" cy="278.60" r="1.62" fill="#de8c00"/>
<circle cx="160.16" cy="278.80" r="1.62" fill="#df8a00"/>
<circle cx="161.47" cy="279.45" r="1.62" fill="#e08700"/>
<circle cx="162.79" cy="280.17" r="1.62" fill="#e18500"/>
<circle cx="164.11" cy="280.43" r="1.62" fill="#e38200"/>
<circle cx="165.43" cy="280.69" r="1.62" fill="#e48000"/>
<circle cx="166.74" cy="280.96" r="1.62" fill="#e57e00"/>
<circle cx="168.06" cy="281.31" r="1.62" fill="#e67c00"/>
<circle cx="169.38" cy="281.35" r="1.62" fill="#e77a00"/>
<circle cx="170.69" cy="281.56" r="1.62" fill="#e87800"/>
<circle cx="172.01" cy="281.53" r="1.62" fill="#e97500"/>
<circle cx="173.33" cy="281.76" r="1.62" fill="#ea7300"/>
<circle cx="174.64" cy="282.23" r="1.62" fill="#eb7100"/>
<circle cx="175.96" cy="282.52" r="1.62" fill="#ec6e00"/>
<circle cx="177.28" cy="282.50" r="1.62" fill="#ec6c00"/>
<circle cx="178.60" cy="282.65" r="1.62" fill="#ed6a00"/>
<circle cx="179.91" cy="283.20" r="1.62" fill="#ee6800"/>
<circle cx="181.23" cy="283.54" r="1.62" fill="#ef6500"/>
<circle cx="182.55" cy="283.88" r="1.62" fill="#f06300"/>
<circle cx="183.86" cy="285.08" r="1.62" fill="#f06100"/>
<circle cx="185.18" cy="284.84" r="1.62" fill="#f15f00"/>
<circle cx="186.50" cy="285.87" r="1.62" fill="#f25d00"/>
<circle cx="187.81" cy="286.27" r="1.62" fill="#f25a00"/>
<circle cx="189.13" cy="286.57" r="1.62" fill="#f35800"/>
<circle cx="190.45" cy="287.20" r="1.62" fill="#f45600"/>
<circle cx="191.77" cy="288.22" r="1.62" fill="#f45300"/>
<circle cx="193.08" cy="288.34" r="1.62" fill="#f55000"/>
<circle cx="194.40" cy="289.37" r="1.62" fill="#f64e00"/>
<circle cx="195.72" cy="289.94" r="1.62" fill="#f74800"/>
<circle cx="197.03" cy="290.37" r="1.62" fill="#f74800"/>
<circle cx="198.35" cy="291.49" r="1.62" fill="#f74800"/>
<circle cx="199.67" cy="292.15" r="1.62" fill="#f74800"/>
<circle cx="200.99" cy="292.85" r="1.62" fill="#f74800"/>
<circle cx="202.30" cy="293.57" r="1.62" fill="#f74800"/>
<circle cx="203.62" cy="294.43" r="1.62" fill="#f74800"/>
<circle cx="204.94" cy="296.04" r="1.62" fill="#f74800"/>
<circle cx="206.25" cy="296.81" r="1.62" fill="#f74800"/>
<circle cx="207.57" cy="297.89" r="1.62" fill="#f74800"/>
<circle cx="208.89" cy="299.34" r="1.62" fill="#f74800"/>
<circle cx="210.20" cy="298.94" r="1.62" fill="#f74800"/>
<circle cx="211.52" cy="298.89" r="1.62" fill="#f74800"/>
<circle cx="212.84" cy="299.19" r="1.62" fill="#f74800"/>
<circle cx="214.15" cy="299.92" r="1.62" fill="#f74800"/>
<circle cx="215.47" cy="301.41" r="1.62" fill="#f74800"/>
<circle cx="216.79" cy="302.15" r="1.62" fill="#f74800"/>
<circle cx="218.11" cy="302.61" r="1.62" fill="#f74800"/>
<circle cx="219.42" cy="303.78" r="1.62" fill="#f74800"/>
<circle cx="220.74" cy="304.41" r="1.62" fill="#f74800"/>
<circle cx="222.06" cy="304.82" r="1.62" fill="#f74800"/>
<circle cx="223.37" cy="305.85" r="1.62" fill="#f74800"/>
<circle cx="224.69" cy="306.05" r="1.62" fill="#f74800"/>
<circle cx="226.01" cy="306.69" r="1.62" fill="#f74800"/>
<circle cx="227.32" cy="308.07" r="1.62" fill="#f74800"/>
<circle cx="228.64" cy="308.21" r="1.62" fill="#f74800"/>
<circle cx="229.96" cy="308.33" r="1.62" fill="#f74800"/>
<circle cx="231.28" cy="308.52" r="1.62" fill="#f74800"/>
<circle cx="232.59" cy="309.43" r="1.62" fill="#f74800"/>
<circle cx="233.91" cy="310.33" r="1.62" fill="#f74800"/>
<circle cx="235.23" cy="310.75" r="1.62" fill="#f74800"/>
<circle cx="236.54" cy="311.73" r="1.62" fill="#f74800"/>
<circle cx="237.86" cy="313.33" r="1.62" fill="#f74800"/>
<circle cx="239.18" cy="314.08" r="1.62" fill="#f74800"/>
<circle cx="240.50" cy="314.80" r="1.62" fill="#f74800"/>
<circle cx="241.81" cy="315.65" r="1.62" fill="#f74800"/>
<circle cx="243.13" cy="317.16" r="1.62" fill="#f74800"/>
<circle cx="244.45" cy="317.53" r="1.62" fill="#f74800"/>
<circle cx="245.76" cy="317.50" r="1.62" fill="#f74800"/>
<circle cx="247.08" cy="317.80" r="1.62" fill="#f74800"/>
<circle cx="248.40" cy="318.21" r="1.62" fill="#f74800"/>
<circle cx="249.71" cy="318.41" r="1.62" fill="#f74800"/>
<circle cx="251.03" cy="318.30" r="1.62" fill="#f74800"/>
<circle cx="252.35" cy="317.92" r="1.62" fill="#f74800"/>
<circle cx="253.67" cy="318.33" r="1.62" fill="#f74800"/>
<circle cx="254.98" cy="318.13" r="1.62" fill="#f74800"/>
<circle cx="256.30" cy="317.61" r="1.62" fill="#f74800"/>
<circle cx="257.62" cy="317.64" r="1.62" fill="#f74800"/>
<circle cx="258.93" cy="317.77" r="1.62" fill="#f74800"/>
<circle cx="260.25" cy="319.79" r="1.62" fill="#f74800"/>
<circle cx="261.57" cy="320.90" r="1.62" fill="#f74800"/>
<circle cx="262.88" cy="321.70" r="1.62" fill="#f74800"/>
<circle cx="264.20" cy="322.86" r="1.62" fill="#f74800"/>
<circle cx="265.52" cy="323.37" r="1.62" fill="#f74800"/>
<circle cx="266.83" cy="321.90" r="1.62" fill="#f74800"/>
<circle cx="268.15" cy="320.63" r="1.62" fill="#f74800"/>
<circle cx="269.47" cy="319.53" r="1.62" fill="#f74800"/>
<circle cx="270.79" cy="318.69" r="1.62" fill="#f74800"/>
<circle cx="272.10" cy="319.04" r="1.62" fill="#f74800"/>
<circle cx="273.42" cy="319.77" r="1.62" fill="#f74800"/>
<circle cx="274.74" cy="319.63" r="1.62" fill="#f74800"/>
<circle cx="276.05" cy="320.09" r="1.62" fill="#f74800"/>
<circle cx="277.37" cy="322.24" r="1.62" fill="#f74800"/>
<circle cx="278.69" cy="324.06" r="1.62" fill="#f74800"/>
<circle cx="280.00" cy="323.75" r="1.62" fill="#f74800"/>
<circle cx="281.32" cy="323.74" r="1.62" fill="#f74800"/>
<circle cx="282.64" cy="323.30" r="1.62" fill="#f74800"/>
<circle cx="283.96" cy="323.78" r="1.62" fill="#f74800"/>
<circle cx="285.27" cy="323.23" r="1.62" fill="#f74800"/>
<circle cx="286.59" cy="322.83" r="1.62" fill="#f74800"/>
<circle cx="287.91" cy="322.56" r="1.62" fill="#f74800"/>
<circle cx="289.22" cy="321.99" r="1.62" fill="#f74800"/>
<circle cx="290.54" cy="322.86" r="1.62" fill="#f74800"/>
<circle cx="291.86" cy="322.46" r="1.62" fill="#f74800"/>
<circle cx="293.18" cy="323.10" r="1.62" fill="#f74800"/>
<circle cx="294.49" cy="322.99" r="1.62" fill="#f74800"/>
<circle cx="295.81" cy="323.08" r="1.62" fill="#f74800"/>
<circle cx="297.13" cy="323.24" r="1.62" fill="#f74800"/>
<circle cx="298.44" cy="322.89" r="1.62" fill="#f74800"/>
<circle cx="299.76" cy="322.80" r="1.62" fill="#f74800"/>
<circle cx="301.08" cy="322.90" r="1.62" fill="#f74800"/>
<circle cx="302.39" cy="322.48" r="1.62" fill="#f74800"/>
<circle cx="303.71" cy="322.65" r="1.62" fill="#f74800"/>
<circle cx="305.03" cy="321.78" r="1.62" fill="#a8a8a8"/>
<circle cx="306.34" cy="321.13" r="1.62" fill="#a8a8a8"/>
<circle cx="307.66" cy="320.91" r="1.62" fill="#a8a8a8"/>
<circle cx="308.98" cy="320.85" r="1.62" fill="#a8a8a8"/>
<circle cx="310.30" cy="320.06" r="1.62" fill="#a8a8a8"/>
<circle cx="311.61" cy="319.94" r="1.62" fill="#a8a8a8"/>
<circle cx="312.93" cy="320.09" r="1.62" fill="#a8a8a8"/>
<circle cx="314.25" cy="319.26" r="1.62" fill="#a8a8a8"/>
<circle cx="315.56" cy="318.76" r="1.62" fill="#a8a8a8"/>
<circle cx="316.88" cy="317.96" r="1.62" fill="#a8a8a8"/>
<circle cx="318.20" cy="318.72" r="1.62" fill="#a8a8a8"/>
<circle cx="319.51" cy="319.14" r="1.62" fill="#fb3300"/>
<circle cx="320.83" cy="318.76" r="1.62" fill="#fb3300"/>
<circle cx="322.15" cy="318.55" r="1.62" fill="#a8a8a8"/>
<circle cx="323.47" cy="317.66" r="1.62" fill="#a8a8a8"/>
<circle cx="324.78" cy="317.04" r="1.62" fill="#a8a8a8"/>
<circle cx="326.10" cy="316.25" r="1.62" fill="#a8a8a8"/>
<circle cx="327.42" cy="316.09" r="1.62" fill="#a8a8a8"/>
<circle cx="328.73" cy="314.76" r="1.62" fill="#a8a8a8"/>
<circle cx="330.05" cy="313.83" r="1.62" fill="#a8a8a8"/>
<circle cx="331.37" cy="313.36" r="1.62" fill="#a8a8a8"/>
<circle cx="332.69" cy="312.86" r="1.62" fill="#a8a8a8"/>
<circle cx="334.00" cy="311.99" r="1.62" fill="#a8a8a8"/>
<circle cx="335.32" cy="311.47" r="1.62" fill="#a8a8a8"/>
<circle cx="336.64" cy="311.02" r="1.62" fill="#a8a8a8"/>
<circle cx="337.95" cy="311.30" r="1.62" fill="#a8a8a8"/>
<circle cx="339.27" cy="310.61" r="1.62" fill="#fb3300"/>
<circle cx="340.59" cy="309.45" r="1.62" fill="#fb3300"/>
<circle cx="341.90" cy="308.58" r="1.62" fill="#a8a8a8"/>
<circle cx="343.22" cy="307.14" r="1.62" fill="#a8a8a8"/>
<circle cx="344.54" cy="306.26" r="1.62" fill="#a8a8a8"/>
<circle cx="345.85" cy="304.03" r="1.62" fill="#a8a8a8"/>
<circle cx="347.17" cy="302.73" r="1.62" fill="#a8a8a8"/>
<circle cx="348.49" cy="301.44" r="1.62" fill="#a8a8a8"/>
<circle cx="349.81" cy="299.90" r="1.62" fill="#a8a8a8"/>
<circle cx="351.12" cy="299.26" r="1.62" fill="#a8a8a8"/>
<circle cx="352.44" cy="298.54" r="1.62" fill="#a8a8a8"/>
<circle cx="353.76" cy="297.96" r="1.62" fill="#a8a8a8"/>
<circle cx="355.07" cy="297.26" r="1.62" fill="#a8a8a8"/>
<circle cx="356.39" cy="297.77" r="1.62" fill="#a8a8a8"/>
<circle cx="357.71" cy="297.20" r="1.62" fill="#a8a8a8"/>
<circle cx="359.02" cy="297.45" r="1.62" fill="#a8a8a8"/>
<circle cx="360.34" cy="296.88" r="1.62" fill="#fa3900"/>
<circle cx="361.66" cy="296.72" r="1.62" fill="#fa3900"/>
<circle cx="362.98" cy="296.01" r="1.62" fill="#fa3900"/>
<circle cx="364.29" cy="295.68" r="1.62" fill="#fa3900"/>
<circle cx="365.61" cy="295.61" r="1.62" fill="#fa3900"/>
<circle cx="366.93" cy="295.70" r="1.62" fill="#fa3900"/>
<circle cx="368.24" cy="295.02" r="1.62" fill="#fa3900"/>
<circle cx="369.56" cy="295.33" r="1.62" fill="#fa3900"/>
<circle cx="370.88" cy="294.85" r="1.62" fill="#fa3900"/>
<circle cx="372.19" cy="295.28" r="1.62" fill="#fa3900"/>
<circle cx="373.51" cy="295.75" r="1.62" fill="#fa3900"/>
<circle cx="374.83" cy="295.79" r="1.62" fill="#fa3900"/>
<circle cx="376.15" cy="295.92" r="1.62" fill="#fa3900"/>
<circle cx="377.46" cy="296.09" r="1.62" fill="#fa3900"/>
<circle cx="378.78" cy="295.37" r="1.62" fill="#fa3900"/>
<circle cx="380.10" cy="295.50" r="1.62" fill="#fa3900"/>
<circle cx="381.41" cy="294.88" r="1.62" fill="#fa3900"/>
<circle cx="382.73" cy="294.70" r="1.62" fill="#fa3900"/>
<circle cx="384.05" cy="295.08" r="1.62" fill="#fa3900"/>
<circle cx="385.36" cy="294.40" r="1.62" fill="#fa3900"/>
<circle cx="386.68" cy="294.55" r="1.62" fill="#fa3900"/>
<circle cx="388.00" cy="294.15" r="1.62" fill="#a8a8a8"/>
<circle cx="389.32" cy="294.29" r="1.62" fill="#a8a8a8"/>
<circle cx="390.63" cy="294.33" r="1.62" fill="#a8a8a8"/>
<circle cx="391.95" cy="293.85" r="1.62" fill="#f74a00"/>
<circle cx="393.27" cy="294.35" r="1.62" fill="#a8a8a8"/>
<circle cx="394.58" cy="293.75" r="1.62" fill="#a8a8a8"/>
<circle cx="395.90" cy="293.74" r="1.62" fill="#a8a8a8"/>
<circle cx="397.22" cy="293.25" r="1.62" fill="#a8a8a8"/>
<circle cx="398.53" cy="291.86" r="1.62" fill="#a8a8a8"/>
<circle cx="399.85" cy="291.23" r="1.62" fill="#a8a8a8"/>
<circle cx="401.17" cy="290.16" r="1.62" fill="#a8a8a8"/>
<circle cx="402.49" cy="289.61" r="1.62" fill="#a8a8a8"/>
<circle cx="403.80" cy="289.03" r="1.62" fill="#a8a8a8"/>
<circle cx="405.12" cy="287.14" r="1.62" fill="#a8a8a8"/>
<circle cx="406.44" cy="286.37" r="1.62" fill="#a8a8a8"/>
<circle cx="407.75" cy="284.92" r="1.62" fill="#a8a8a8"/>
<circle cx="409.07" cy="282.86" r="1.62" fill="#a8a8a8"/>
<circle cx="410.39" cy="281.67" r="1.62" fill="#a8a8a8"/>
<circle cx="411.70" cy="280.18" r="1.62" fill="#a8a8a8"/>
<circle cx="413.02" cy="278.32" r="1.62" fill="#a8a8a8"/>
<circle cx="414.34" cy="277.37" r="1.62" fill="#a8a8a8"/>
<circle cx="415.66" cy="275.50" r="1.62" fill="#a8a8a8"/>
<circle cx="416.97" cy="274.29" r="1.62" fill="#a8a8a8"/>
<circle cx="418.29" cy="273.15" r="1.62" fill="#a8a8a8"/>
<circle cx="419.61" cy="271.97" r="1.62" fill="#a8a8a8"/>
<circle cx="420.92" cy="270.42" r="1.62" fill="#a8a8a8"/>
<circle cx="422.24" cy="268.44" r="1.62" fill="#a8a8a8"/>
<circle cx="423.56" cy="267.52" r="1.62" fill="#a8a8a8"/>
<circle cx="424.88" cy="266.34" r="1.62" fill="#a8a8a8"/>
<circle cx="426.19" cy="264.84" r="1.62" fill="#a8a8a8"/>
<circle cx="427.51" cy="262.96" r="1.62" fill="#a8a8a8"/>
<circle cx="428.83" cy="262.36" r="1.62" fill="#a8a8a8"/>
<circle cx="430.14" cy="260.81" r="1.62" fill="#a8a8a8"/>
<circle cx="431.46" cy="260.30" r="1.62" fill="#a8a8a8"/>
<circle cx="432.78" cy="258.57" r="1.62" fill="#a8a8a8"/>
<circle cx="434.09" cy="257.88" r="1.62" fill="#a8a8a8"/>
<circle cx="435.41" cy="257.25" r="1.62" fill="#a8a8a8"/>
<circle cx="436.73" cy="255.73" r="1.62" fill="#a8a8a8"/>
<circle cx="438.04" cy="255.82" r="1.62" fill="#a8a8a8"/>
<circle cx="439.36" cy="255.12" r="1.62" fill="#a8a8a8"/>
<circle cx="440.68" cy="254.91" r="1.62" fill="#a8a8a8"/>
<circle cx="442.00" cy="254.86" r="1.62" fill="#a8a8a8"/>
<circle cx="443.31" cy="254.31" r="1.62" fill="#fb3000"/>
<circle cx="444.63" cy="253.74" r="1.62" fill="#fb3000"/>
<circle cx="445.95" cy="253.19" r="1.62" fill="#fb3000"/>
<circle cx="447.26" cy="252.74" r="1.62" fill="#fb3000"/>
<circle cx="448.58" cy="252.47" r="1.62" fill="#fb3000"/>
<circle cx="449.90" cy="251.44" r="1.62" fill="#fb3000"/>
<circle cx="451.21" cy="251.88" r="1.62" fill="#fb3000"/>
<circle cx="452.53" cy="251.25" r="1.62" fill="#fb3000"/>
<circle cx="453.85" cy="251.30" r="1.62" fill="#fb3000"/>
<circle cx="455.17" cy="251.22" r="1.62" fill="#fb3000"/>
<circle cx="456.48" cy="250.77" r="1.62" fill="#fb3000"/>
<circle cx="457.80" cy="250.62" r="1.62" fill="#fb3000"/>
<circle cx="459.12" cy="251.01" r="1.62" fill="#fb3000"/>
<circle cx="460.43" cy="251.40" r="1.62" fill="#fb3000"/>
<circle cx="461.75" cy="250.57" r="1.62" fill="#fb3000"/>
<circle cx="463.07" cy="251.36" r="1.62" fill="#fb3000"/>
<circle cx="464.38" cy="251.41" r="1.62" fill="#fb3000"/>
<circle cx="465.70" cy="251.76" r="1.62" fill="#fb3000"/>
<circle cx="467.02" cy="251.95" r="1.62" fill="#fb3000"/>
<circle cx="468.34" cy="252.48" r="1.62" fill="#fb3000"/>
<circle cx="469.65" cy="253.13" r="1.62" fill="#fb3000"/>
<circle cx="470.97" cy="253.78" r="1.62" fill="#fb3000"/>
<circle cx="472.29" cy="254.13" r="1.62" fill="#fb3000"/>
<circle cx="473.60" cy="254.96" r="1.62" fill="#fb3000"/>
<circle cx="474.92" cy="255.82" r="1.62" fill="#fb3000"/>
<circle cx="476.24" cy="256.80" r="1.62" fill="#fb3000"/>
<circle cx="477.55" cy="257.63" r="1.62" fill="#fb3000"/>
<circle cx="478.87" cy="257.72" r="1.62" fill="#fb3000"/>
<circle cx="480.19" cy="257.82" r="1.62" fill="#fb3000"/>
<circle cx="481.51" cy="258.06" r="1.62" fill="#fb3000"/>
<circle cx="482.82" cy="258.04" r="1.62" fill="#fb3000"/>
<circle cx="484.14" cy="259.05" r="1.62" fill="#fb3000"/>
<circle cx="485.46" cy="259.22" r="1.62" fill="#fb3000"/>
<circle cx="486.77" cy="259.98" r="1.62" fill="#fb3000"/>
<circle cx="488.09" cy="260.16" r="1.62" fill="#fb3000"/>
<circle cx="489.41" cy="261.19" r="1.62" fill="#fb3000"/>
<circle cx="490.72" cy="261.50" r="1.62" fill="#fb3000"/>
<circle cx="492.04" cy="262.36" r="1.62" fill="#fb3000"/>
<circle cx="493.36" cy="262.82" r="1.62" fill="#fb3000"/>
<circle cx="494.68" cy="262.57" r="1.62" fill="#fb3000"/>
<circle cx="495.99" cy="262.68" r="1.62" fill="#fb3000"/>
<circle cx="497.31" cy="261.79" r="1.62" fill="#fb3000"/>
<circle cx="498.63" cy="261.68" r="1.62" fill="#fb3000"/>
<circle cx="499.94" cy="262.03" r="1.62" fill="#fb3000"/>
<circle cx="501.26" cy="261.72" r="1.62" fill="#fb3000"/>
<circle cx="502.58" cy="262.64" r="1.62" fill="#fb3000"/>
<circle cx="503.89" cy="262.31" r="1.62" fill="#fb3000"/>
<circle cx="505.21" cy="263.30" r="1.62" fill="#fb3000"/>
<circle cx="506.53" cy="262.87" r="1.62" fill="#fb3000"/>
<circle cx="507.85" cy="263.29" r="1.62" fill="#fb3000"/>
<circle cx="509.16" cy="263.15" r="1.62" fill="#fb3000"/>
<circle cx="510.48" cy="263.18" r="1.62" fill="#fb3000"/>
<circle cx="511.80" cy="264.46" r="1.62" fill="#fb3000"/>
<circle cx="513.11" cy="265.21" r="1.62" fill="#fb3000"/>
<circle cx="514.43" cy="265.28" r="1.62" fill="#fb3000"/>
<circle cx="515.75" cy="265.18" r="1.62" fill="#fb3000"/>
<circle cx="517.07" cy="263.97" r="1.62" fill="#fb3000"/>
<circle cx="518.38" cy="263.29" r="1.62" fill="#fb3000"/>
<circle cx="519.70" cy="263.47" r="1.62" fill="#fb3000"/>
<circle cx="521.02" cy="262.71" r="1.62" fill="#fb3000"/>
<circle cx="522.33" cy="262.50" r="1.62" fill="#fb3000"/>
<circle cx="523.65" cy="261.69" r="1.62" fill="#fb3000"/>
<circle cx="524.97" cy="261.85" r="1.62" fill="#fb3000"/>
<circle cx="526.28" cy="261.02" r="1.62" fill="#fb3000"/>
<circle cx="527.60" cy="260.78" r="1.62" fill="#fb3000"/>
<circle cx="528.92" cy="260.92" r="1.62" fill="#fb3000"/>
<circle cx="530.24" cy="261.54" r="1.62" fill="#fb3000"/>
<circle cx="531.55" cy="261.03" r="1.62" fill="#a8a8a8"/>
<circle cx="532.87" cy="261.58" r="1.62" fill="#a8a8a8"/>
<circle cx="534.19" cy="261.10" r="1.62" fill="#fb3000"/>
<circle cx="535.50" cy="261.36" r="1.62" fill="#fb3000"/>
<circle cx="536.82" cy="261.94" r="1.62" fill="#fb3000"/>
<circle cx="538.14" cy="262.05" r="1.62" fill="#fb3000"/>
<circle cx="539.45" cy="262.58" r="1.62" fill="#fb3000"/>
<circle cx="540.77" cy="263.27" r="1.62" fill="#fb3000"/>
<circle cx="542.09" cy="263.64" r="1.62" fill="#fb3000"/>
<circle cx="543.40" cy="264.74" r="1.62" fill="#fb3000"/>
<circle cx="544.72" cy="265.21" r="1.62" fill="#fb3000"/>
<circle cx="546.04" cy="265.73" r="1.62" fill="#fb3000"/>
<circle cx="547.36" cy="265.86" r="1.62" fill="#fb3000"/>
<circle cx="548.67" cy="266.43" r="1.62" fill="#fb3000"/>
<circle cx="549.99" cy="266.83" r="1.62" fill="#fb3000"/>
<circle cx="551.31" cy="266.33" r="1.62" fill="#fb3000"/>
<circle cx="552.62" cy="266.07" r="1.62" fill="#fb3000"/>
<circle cx="553.94" cy="265.94" r="1.62" fill="#a8a8a8"/>
<circle cx="555.26" cy="265.81" r="1.62" fill="#fb3000"/>
<circle cx="556.58" cy="266.23" r="1.62" fill="#fb3000"/>
<circle cx="557.89" cy="266.34" r="1.62" fill="#fb3000"/>
<circle cx="559.21" cy="266.19" r="1.62" fill="#fb3000"/>
<circle cx="560.53" cy="267.03" r="1.62" fill="#fb3000"/>
<circle cx="561.84" cy="266.69" r="1.62" fill="#fb3000"/>
<circle cx="563.16" cy="266.73" r="1.62" fill="#fb3000"/>
<circle cx="564.48" cy="267.08" r="1.62" fill="#fb3000"/>
<circle cx="565.79" cy="266.97" r="1.62" fill="#fb3000"/>
<circle cx="567.11" cy="266.60" r="1.62" fill="#fb3000"/>
<circle cx="568.43" cy="267.12" r="1.62" fill="#fb3000"/>
<circle cx="569.75" cy="266.48" r="1.62" fill="#fb3000"/>
<circle cx="571.06" cy="266.04" r="1.62" fill="#fb3000"/>
<circle cx="572.38" cy="266.10" r="1.62" fill="#fb3000"/>
<circle cx="573.70" cy="265.51" r="1.62" fill="#fb3000"/>
<circle cx="575.01" cy="266.16" r="1.62" fill="#fb3000"/>
<circle cx="576.33" cy="266.61" r="1.62" fill="#fb3000"/>
<circle cx="577.65" cy="266.78" r="1.62" fill="#fb3000"/>
<circle cx="578.96" cy="266.95" r="1.62" fill="#fb3000"/>
<circle cx="580.28" cy="266.53" r="1.62" fill="#fb3000"/>
<circle cx="581.60" cy="266.71" r="1.62" fill="#fb3000"/>
<circle cx="582.92" cy="265.98" r="1.62" fill="#fb3000"/>
<circle cx="584.23" cy="266.12" r="1.62" fill="#fb3000"/>
<circle cx="585.55" cy="266.19" r="1.62" fill="#fb3000"/>
<circle cx="586.87" cy="265.77" r="1.62" fill="#fb3000"/>
<circle cx="588.18" cy="264.95" r="1.62" fill="#a8a8a8"/>
<circle cx="589.50" cy="264.27" r="1.62" fill="#a8a8a8"/>
<circle cx="590.82" cy="263.79" r="1.62" fill="#a8a8a8"/>
<circle cx="592.13" cy="263.15" r="1.62" fill="#a8a8a8"/>
<circle cx="593.45" cy="262.37" r="1.62" fill="#a8a8a8"/>
<circle cx="594.77" cy="261.12" r="1.62" fill="#a8a8a8"/>
<circle cx="596.09" cy="261.33" r="1.62" fill="#a8a8a8"/>
<circle cx="597.40" cy="260.32" r="1.62" fill="#a8a8a8"/>
<circle cx="598.72" cy="259.99" r="1.62" fill="#a8a8a8"/>
<circle cx="600.04" cy="260.16" r="1.62" fill="#a8a8a8"/>
<circle cx="601.35" cy="259.70" r="1.62" fill="#a8a8a8"/>
<circle cx="602.67" cy="259.16" r="1.62" fill="#a8a8a8"/>
<circle cx="603.99" cy="258.73" r="1.62" fill="#a8a8a8"/>
<circle cx="605.30" cy="258.40" r="1.62" fill="#a8a8a8"/>
<circle cx="606.62" cy="258.15" r="1.62" fill="#a8a8a8"/>
<circle cx="607.94" cy="258.53" r="1.62" fill="#a8a8a8"/>
<circle cx="609.25" cy="258.40" r="1.62" fill="#a8a8a8"/>
<circle cx="610.57" cy="257.99" r="1.62" fill="#fc2d00"/>
<circle cx="611.89" cy="257.83" r="1.62" fill="#fc2d00"/>
<circle cx="613.21" cy="257.64" r="1.62" fill="#fc2d00"/>
<circle cx="614.52" cy="257.99" r="1.62" fill="#fc2d00"/>
<circle cx="615.84" cy="257.43" r="1.62" fill="#fc2d00"/>
<circle cx="617.16" cy="257.09" r="1.62" fill="#fc2d00"/>
<circle cx="618.47" cy="257.01" r="1.62" fill="#fc2d00"/>
<circle cx="619.79" cy="257.02" r="1.62" fill="#fc2d00"/>
<circle cx="621.11" cy="257.07" r="1.62" fill="#fc2d00"/>
<circle cx="622.43" cy="257.07" r="1.62" fill="#fc2d00"/>
<circle cx="623.74" cy="257.86" r="1.62" fill="#fc2d00"/>
<circle cx="625.06" cy="257.18" r="1.62" fill="#fc2d00"/>
<circle cx="626.38" cy="257.74" r="1.62" fill="#fc2d00"/>
<circle cx="627.69" cy="257.74" r="1.62" fill="#fc2d00"/>
<circle cx="629.01" cy="257.66" r="1.62" fill="#fc2d00"/>
<circle cx="630.33" cy="257.46" r="1.62" fill="#fc2d00"/>
<circle cx="631.64" cy="257.97" r="1.62" fill="#fc2d00"/>
<circle cx="632.96" cy="258.40" r="1.62" fill="#fc2d00"/>
<circle cx="634.28" cy="258.60" r="1.62" fill="#fc2d00"/>
<circle cx="635.60" cy="258.37" r="1.62" fill="#fc2d00"/>
<circle cx="636.91" cy="258.66" r="1.62" fill="#fc2d00"/>
<circle cx="638.23" cy="259.45" r="1.62" fill="#fc2d00"/>
<circle cx="639.55" cy="259.83" r="1.62" fill="#fc2d00"/>
<circle cx="640.86" cy="260.20" r="1.62" fill="#fc2d00"/>
<circle cx="642.18" cy="260.81" r="1.62" fill="#fc2d00"/>
<circle cx="643.50" cy="261.00" r="1.62" fill="#fc2d00"/>
<circle cx="644.81" cy="261.76" r="1.62" fill="#fc2d00"/>
<circle cx="646.13" cy="261.94" r="1.62" fill="#fc2d00"/>
<circle cx="647.45" cy="262.09" r="1.62" fill="#fc2d00"/>
<circle cx="648.76" cy="262.62" r="1.62" fill="#fc2d00"/>
<circle cx="650.08" cy="263.69" r="1.62" fill="#fc2d00"/>
<circle cx="651.40" cy="264.05" r="1.62" fill="#fc2d00"/>
<circle cx="652.72" cy="264.33" r="1.62" fill="#fc2d00"/>
<rect x="619.7" y="318.2" width="60.1" height="117.1" fill="#ffffff"/>
<text x="626.3" y="335.6" font-size="12.2" fill="#000">NPV</text>
<rect x="626.5" y="342.3" width="21.1" height="86.0" fill="url(#cb)"/>
<text x="654.0" y="345.90" font-size="9.8" fill="#000">1.00</text>
<line x1="626.5" x2="630.7" y1="363.80" y2="363.80" stroke="#fff" stroke-width="0.6"/>
<line x1="643.5" x2="647.7" y1="363.80" y2="363.80" stroke="#fff" stroke-width="0.6"/>
<text x="654.0" y="367.40" font-size="9.8" fill="#000">0.75</text>
<line x1="626.5" x2="630.7" y1="385.30" y2="385.30" stroke="#fff" stroke-width="0.6"/>
<line x1="643.5" x2="647.7" y1="385.30" y2="385.30" stroke="#fff" stroke-width="0.6"/>
<text x="654.0" y="388.90" font-size="9.8" fill="#000">0.50</text>
<line x1="626.5" x2="630.7" y1="406.80" y2="406.80" stroke="#fff" stroke-width="0.6"/>
<line x1="643.5" x2="647.7" y1="406.80" y2="406.80" stroke="#fff" stroke-width="0.6"/>
<text x="654.0" y="410.40" font-size="9.8" fill="#000">0.25</text>
<text x="654.0" y="431.90" font-size="9.8" fill="#000">0.00</text>
<text transform="translate(19.2,338.4) rotate(-90)" text-anchor="middle" font-size="13.8" textLength="58.4" lengthAdjust="spacingAndGlyphs" fill="#000">ln(Cases)</text>
<text x="3.9" y="16.4" font-size="15.2" fill="#000">a</text>
<text x="34.9" y="18.3" font-size="15.6" fill="#000">Italy</text>
<text x="4.0" y="252.8" font-size="15.2" fill="#000">b</text>
<text x="358.4" y="463.3" text-anchor="middle" font-size="13.6" fill="#000">Days</text>
</svg>
</body></html>
